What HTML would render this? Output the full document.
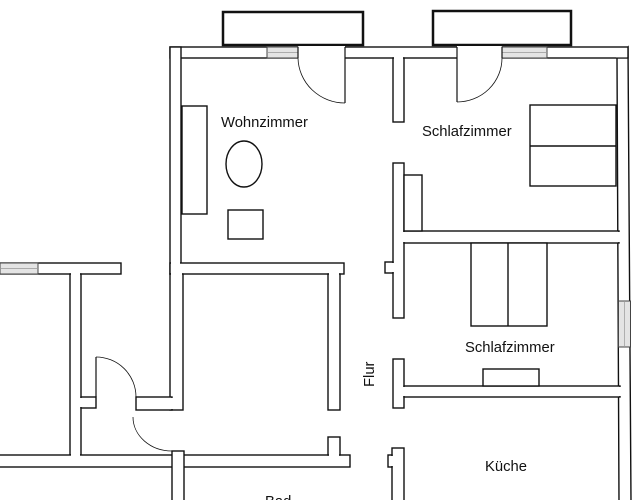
<!DOCTYPE html>
<html><head><meta charset="utf-8"><style>
html,body{margin:0;padding:0;background:#fff;width:643px;height:500px;overflow:hidden}
svg{display:block}
text{font-family:"Liberation Sans",Arial,sans-serif;font-size:14.8px;fill:#111}
</style></head><body>
<svg width="643" height="500" viewBox="0 0 643 500" xmlns="http://www.w3.org/2000/svg">
<g fill="#fff" stroke="#111" stroke-width="1.4">
<rect x="223" y="12" width="140" height="33" stroke-width="2.5"/>
<rect x="433" y="11" width="138" height="34" stroke-width="2.5"/>
<polygon points="617,58 628,47 631,502 619,502"/>
<rect x="170" y="47" width="458" height="11"/>
<rect x="170" y="47" width="11" height="227"/>
<rect x="393" y="58" width="11" height="64"/>
<rect x="393" y="163" width="11" height="155"/>
<rect x="385" y="262" width="8" height="11"/>
<rect x="404" y="231" width="215" height="12"/>
<rect x="393" y="359" width="11" height="49"/>
<rect x="404" y="386" width="216" height="11"/>
<rect x="392" y="448" width="12" height="60"/>
<rect x="388" y="455" width="4" height="12"/>
<rect x="170" y="263" width="174" height="11"/>
<rect x="328" y="274" width="12" height="136"/>
<rect x="170" y="274" width="13" height="136"/>
<rect x="136" y="397" width="36" height="13"/>
<rect x="0" y="263" width="121" height="11"/>
<rect x="70" y="274" width="11" height="181"/>
<rect x="81" y="397" width="15" height="11"/>
<rect x="-2" y="455" width="352" height="12"/>
<rect x="328" y="437" width="12" height="18"/>
<rect x="172" y="451" width="12" height="60"/>
</g>
<g fill="#fff">
<rect x="171" y="57" width="9" height="2"/>
<rect x="394" y="56" width="9" height="4"/>
<rect x="616" y="48" width="11" height="9.3"/>
<rect x="615.5" y="232" width="6" height="10"/>
<rect x="616.5" y="387" width="6" height="9"/>
<rect x="403" y="232" width="2" height="10"/>
<rect x="403" y="387" width="2" height="9"/>
<rect x="171" y="262" width="9" height="13"/>
<rect x="182" y="264" width="2" height="9"/>
<rect x="171" y="273" width="11" height="2"/>
<rect x="329" y="273" width="10" height="2"/>
<rect x="71" y="273" width="9" height="2"/>
<rect x="80" y="398" width="2" height="9"/>
<rect x="171" y="398" width="2" height="11"/>
<rect x="71" y="454" width="9" height="2"/>
<rect x="329" y="453" width="10" height="4"/>
<rect x="173" y="466" width="10" height="2"/>
<rect x="392" y="263" width="2" height="9"/>
<rect x="391" y="456" width="2" height="10"/>
<rect x="298" y="46" width="47" height="13"/>
<rect x="457" y="46" width="45" height="13"/>
</g>
<g fill="#e4e4e4" stroke="#444" stroke-width="1">
<rect x="267" y="47" width="31" height="11"/>
<rect x="502" y="47" width="45" height="11"/>
<rect x="0" y="263" width="38" height="11"/>
<rect x="618.5" y="301" width="12" height="46"/>
</g>
<g stroke="#999" stroke-width="0.7">
<line x1="267" y1="52.5" x2="298" y2="52.5"/>
<line x1="502" y1="52.5" x2="547" y2="52.5"/>
<line x1="0" y1="268.5" x2="38" y2="268.5"/>
<line x1="624.5" y1="301" x2="624.5" y2="347"/>
</g>
<g fill="none" stroke="#111" stroke-width="1.2">
<line x1="298" y1="47" x2="298" y2="58"/>
<line x1="345" y1="47" x2="345" y2="103"/>
<path d="M298 58 A47 46 0 0 0 345 103" stroke-width="0.8"/>
<line x1="502" y1="47" x2="502" y2="58"/>
<line x1="457" y1="47" x2="457" y2="102"/>
<path d="M502 58 A45 44 0 0 1 457 102" stroke-width="0.8"/>
<line x1="96" y1="357" x2="96" y2="397"/>
<path d="M96 357 A40 40 0 0 1 136 397" stroke-width="0.8"/>
<path d="M133 417 A39 34 0 0 0 172 451" stroke-width="0.8"/>
</g>
<g fill="#fff" stroke="#111" stroke-width="1.4">
<rect x="182" y="106" width="25" height="108"/>
<ellipse cx="244" cy="164" rx="18" ry="23"/>
<rect x="228" y="210" width="35" height="29"/>
<rect x="530" y="105" width="86" height="81"/>
<line x1="530" y1="146" x2="616" y2="146"/>
<rect x="404" y="175" width="18" height="56"/>
<rect x="471" y="243" width="76" height="83"/>
<line x1="508" y1="243" x2="508" y2="326"/>
<rect x="483" y="369" width="56" height="17"/>
</g>
<text x="221" y="127">Wohnzimmer</text>
<text x="422" y="136">Schlafzimmer</text>
<text x="465" y="352">Schlafzimmer</text>
<text x="485" y="471">Küche</text>
<text x="265" y="506">Bad</text>
<text transform="translate(374,387) rotate(-90)">Flur</text>
</svg>
</body></html>
